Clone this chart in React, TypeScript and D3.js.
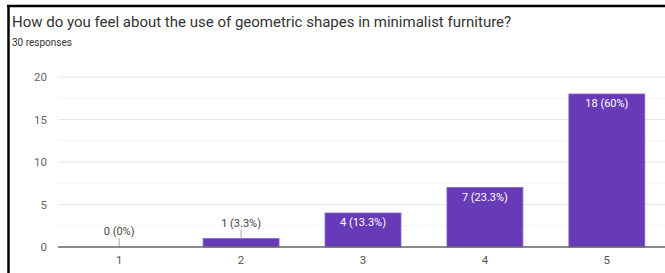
import React from "react";
import * as d3 from "d3";

const categories = ["1", "2", "3", "4", "5"];
const counts = [0, 1, 4, 7, 18];
const percents = ["0%", "3.3%", "13.3%", "23.3%", "60%"];
const yTicks = [0, 5, 10, 15, 20];
const minorTicks = [2.5, 7.5, 12.5, 17.5];
const title = "How do you feel about the use of geometric shapes in minimalist furniture?";
const subtitle = "30 responses";

const W = 665;
const H = 273;
const FONT = "Roboto, 'Noto Sans', Arial, sans-serif";

export default function App() {
  const x = d3.scaleBand<string>().domain(categories).range([58, 668]).paddingInner(0.377).paddingOuter(0.19);
  const y = d3.scaleLinear().domain([0, 20]).range([247, 77]);
  const smallThreshold = 2;

  return (
    <svg width={W} height={H} style={{ position: "absolute", left: 0, top: 0, background: "#fff" }} fontFamily={FONT}>
      <rect x={0} y={0} width={W} height={H} fill="#fff" />
      <line x1={7} x2={W} y1={6} y2={6} stroke="#000" strokeWidth={2.5} />
      <line x1={8.5} x2={8.5} y1={5} y2={H} stroke="#000" strokeWidth={2.5} />
      <text x={12} y={27} fontSize={15} fill="#333">{title}</text>
      <text x={12} y={46} fontSize={10} fill="#333">{subtitle}</text>
      {minorTicks.map((t) => (
        <line key={"m" + t} x1={58} x2={W} y1={y(t)} y2={y(t)} stroke="#f3f3f3" strokeWidth={1} />
      ))}
      {yTicks.filter((t) => t > 0).map((t) => (
        <line key={"g" + t} x1={58} x2={W} y1={y(t)} y2={y(t)} stroke="#e6e6e6" strokeWidth={1} />
      ))}
      {yTicks.map((t) => (
        <text key={"t" + t} x={47} y={y(t) + 4} fontSize={11.5} fill="#666" textAnchor="end">{t}</text>
      ))}
      {categories.map((c, i) => {
        const bx = x(c)!;
        const bw = x.bandwidth();
        const top = y(counts[i]);
        const cx = bx + bw / 2;
        const label = `${counts[i]} (${percents[i]})`;
        const inside = counts[i] > smallThreshold;
        return (
          <g key={c}>
            {counts[i] > 0 && (
              <rect x={bx} y={top} width={bw} height={y(0) - top} fill="#673ab7" stroke="#8a63cf" strokeWidth={0.8} />
            )}
            {inside ? (
              <text x={cx} y={top + 13} fontSize={11} fill="#fff" textAnchor="middle">{label}</text>
            ) : (
              <g>
                <line x1={cx} x2={cx} y1={top - 9} y2={top} stroke="#aaa" strokeWidth={1} />
                <text x={cx} y={top - 12} fontSize={11} fill="#444" textAnchor="middle">{label}</text>
              </g>
            )}
            <text x={cx} y={264} fontSize={11.5} fill="#555" textAnchor="middle">{c}</text>
          </g>
        );
      })}
      <line x1={58} x2={W} y1={y(0)} y2={y(0)} stroke="#666" strokeWidth={1.5} />
    </svg>
  );
}
